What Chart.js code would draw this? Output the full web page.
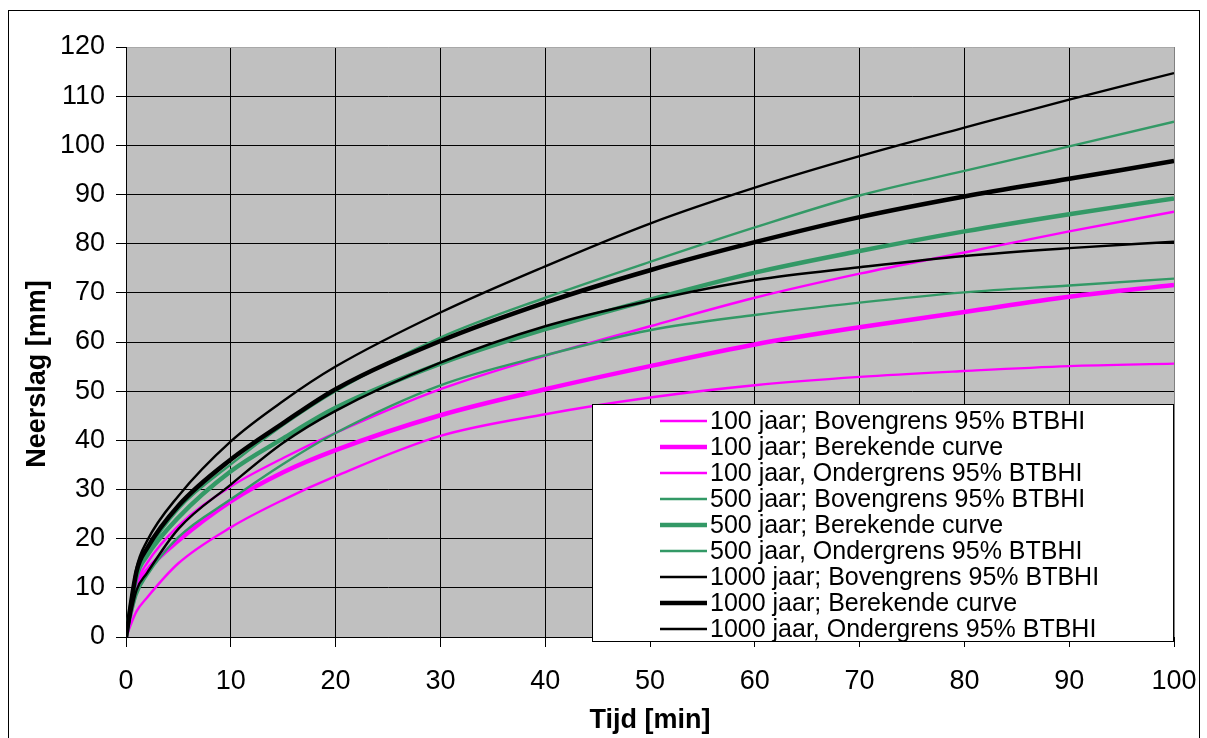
<!DOCTYPE html>
<html>
<head>
<meta charset="utf-8">
<script src="https://cdn.jsdelivr.net/npm/chart.js@4.4.0/dist/chart.umd.min.js"></script>
<style>
  html, body { margin: 0; padding: 0; background: #fff; }
  #wrap { width: 1207px; height: 738px; }
</style>
</head>
<body>
<div id="wrap"><canvas id="rainChart" width="1207" height="738"></canvas></div>
<script>
// Duur (min) en neerslag (mm)
const minutes = [0, 1, 2, 5, 10, 15, 20, 30, 40, 50, 60, 70, 80, 90, 100];

const t100Upper  = [0, 10.8, 15.0, 22.6, 30.6, 36.4, 41.5, 50.4, 57.2, 63.2, 69.0, 73.9, 78.2, 82.5, 86.5];
const t100Calc   = [0, 10.0, 13.5, 19.6, 27.6, 33.5, 38.0, 45.1, 50.4, 55.1, 59.5, 63.0, 66.1, 69.2, 71.6];
const t100Lower  = [0, 5.2, 8.0, 15.0, 22.3, 27.9, 32.7, 40.9, 45.3, 48.7, 51.2, 52.9, 54.1, 55.1, 55.6];
const t500Upper  = [0, 12.0, 17.0, 26.0, 35.1, 43.1, 50.0, 60.9, 69.0, 76.3, 83.3, 89.8, 94.8, 99.8, 104.8];
const t500Calc   = [0, 12.3, 16.5, 24.3, 33.7, 40.4, 46.6, 55.6, 62.6, 68.6, 74.1, 78.5, 82.5, 86.0, 89.2];
const t500Lower  = [0, 8.5, 12.5, 20.3, 28.0, 35.2, 41.5, 51.2, 57.3, 62.4, 65.5, 68.0, 70.1, 71.5, 72.9];
const t1000Upper = [0, 14.0, 19.5, 28.7, 39.8, 48.0, 55.0, 66.0, 75.4, 84.1, 91.4, 97.8, 103.6, 109.3, 114.7];
const t1000Calc  = [0, 13.3, 18.0, 26.7, 36.1, 43.5, 50.4, 60.2, 68.0, 74.6, 80.3, 85.4, 89.6, 93.2, 96.8];
const t1000Lower = [0, 9.5, 13.0, 22.0, 31.0, 39.5, 46.0, 55.8, 63.2, 68.4, 72.6, 75.2, 77.5, 79.1, 80.4];

const seriesLabels = [
    '100 jaar; Bovengrens 95% BTBHI',
    '100 jaar; Berekende curve',
    '100 jaar, Ondergrens 95% BTBHI',
    '500 jaar; Bovengrens 95% BTBHI',
    '500 jaar; Berekende curve',
    '500 jaar, Ondergrens 95% BTBHI',
    '1000 jaar; Bovengrens 95% BTBHI',
    '1000 jaar; Berekende curve',
    '1000 jaar, Ondergrens 95% BTBHI'
];
const seriesValues = [t100Upper, t100Calc, t100Lower, t500Upper, t500Calc, t500Lower, t1000Upper, t1000Calc, t1000Lower];

const xTicks = [0, 10, 20, 30, 40, 50, 60, 70, 80, 90, 100];
const yTicks = [0, 10, 20, 30, 40, 50, 60, 70, 80, 90, 100, 110, 120];

const FONT = "'Liberation Sans', Arial, sans-serif";
const colors = ['#ff00ff', '#ff00ff', '#ff00ff', '#339966', '#339966', '#339966', '#000000', '#000000', '#000000'];
const widths = [2.4, 4.5, 2.4, 2.4, 4.5, 2.4, 2.4, 4.5, 2.4];

// Achtergrond, kader, astitels en legenda
const chartDecor = {
    id: 'chartDecor',
    beforeDraw(chart) {
        const { ctx, chartArea: a } = chart;
        ctx.save();
        ctx.fillStyle = '#ffffff';
        ctx.fillRect(0, 0, chart.width, chart.height);
        ctx.strokeStyle = '#000';
        ctx.lineWidth = 1;
        ctx.strokeRect(8.5, 10.5, 1191, 780);
        ctx.fillStyle = '#c0c0c0';
        ctx.fillRect(a.left, a.top, a.right - a.left, a.bottom - a.top);
        ctx.restore();
    },
    afterDraw(chart) {
        const { ctx, chartArea: a } = chart;
        ctx.save();
        ctx.fillStyle = '#000';
        ctx.font = 'bold 27px ' + FONT;
        ctx.textAlign = 'center';
        ctx.textBaseline = 'middle';
        ctx.fillText('Tijd [min]', (a.left + a.right) / 2, 721);
        ctx.translate(38, 374);
        ctx.rotate(-Math.PI / 2);
        ctx.fillText('Neerslag [mm]', 0, 0);
        ctx.restore();

        // legenda
        const box = { left: 592, top: 404, right: a.right, bottom: a.bottom + 4 };
        ctx.save();
        ctx.fillStyle = '#fff';
        ctx.fillRect(box.left, box.top, box.right - box.left, box.bottom - box.top);
        ctx.strokeStyle = '#000';
        ctx.lineWidth = 1;
        ctx.strokeRect(box.left + 0.5, box.top + 0.5, box.right - box.left - 1, box.bottom - box.top);
        ctx.font = '25px ' + FONT;
        ctx.textAlign = 'left';
        ctx.textBaseline = 'middle';
        chart.data.datasets.forEach((ds, i) => {
            const y = 421 + i * 26;
            ctx.strokeStyle = ds.borderColor;
            ctx.lineWidth = ds.borderWidth;
            ctx.beginPath();
            ctx.moveTo(660, y);
            ctx.lineTo(707, y);
            ctx.stroke();
            ctx.fillStyle = '#000';
            ctx.fillText(ds.label, 710, y + 1);
        });
        ctx.restore();
    }
};

const datasets = seriesValues.map((vals, i) => ({
    label: seriesLabels[i],
    data: minutes.map((m, j) => ({ x: m, y: vals[j] })),
    borderColor: colors[i],
    backgroundColor: colors[i],
    borderWidth: widths[i],
    pointRadius: 0,
    cubicInterpolationMode: 'monotone',
    fill: false,
    order: seriesValues.length - i
}));

new Chart(document.getElementById('rainChart'), {
    type: 'line',
    data: { datasets: datasets },
    options: {
        responsive: false,
        animation: false,
        events: [],
        layout: { padding: { top: 47, right: 33, left: 0, bottom: 0 } },
        plugins: {
            legend: { display: false },
            tooltip: { enabled: false }
        },
        scales: {
            x: {
                type: 'linear',
                min: 0,
                max: 100,
                afterBuildTicks: s => { s.ticks = xTicks.map(v => ({ value: v })); },
                afterFit: s => { s.height = 101; s.paddingLeft = 0; s.paddingRight = 0; },
                ticks: {
                    color: '#000',
                    font: { family: FONT, size: 27 },
                    padding: 18,
                    maxRotation: 0
                },
                grid: {
                    color: c => (c.tick && c.tick.value === 100) ? '#808080' : '#000',
                    tickColor: '#000',
                    tickLength: 10,
                    lineWidth: 1
                },
                border: { color: '#000', width: 1 }
            },
            y: {
                type: 'linear',
                min: 0,
                max: 120,
                afterBuildTicks: s => { s.ticks = yTicks.map(v => ({ value: v })); },
                afterFit: s => { s.width = 126; s.paddingTop = 0; s.paddingBottom = 0; },
                ticks: {
                    color: '#000',
                    font: { family: FONT, size: 27 },
                    padding: 11
                },
                grid: {
                    color: c => (c.tick && c.tick.value === 120) ? '#a8a8a8' : '#000',
                    tickColor: '#000',
                    tickLength: 10,
                    lineWidth: 1
                },
                border: { color: '#000', width: 1 }
            }
        }
    },
    plugins: [chartDecor]
});
</script>
</body>
</html>
